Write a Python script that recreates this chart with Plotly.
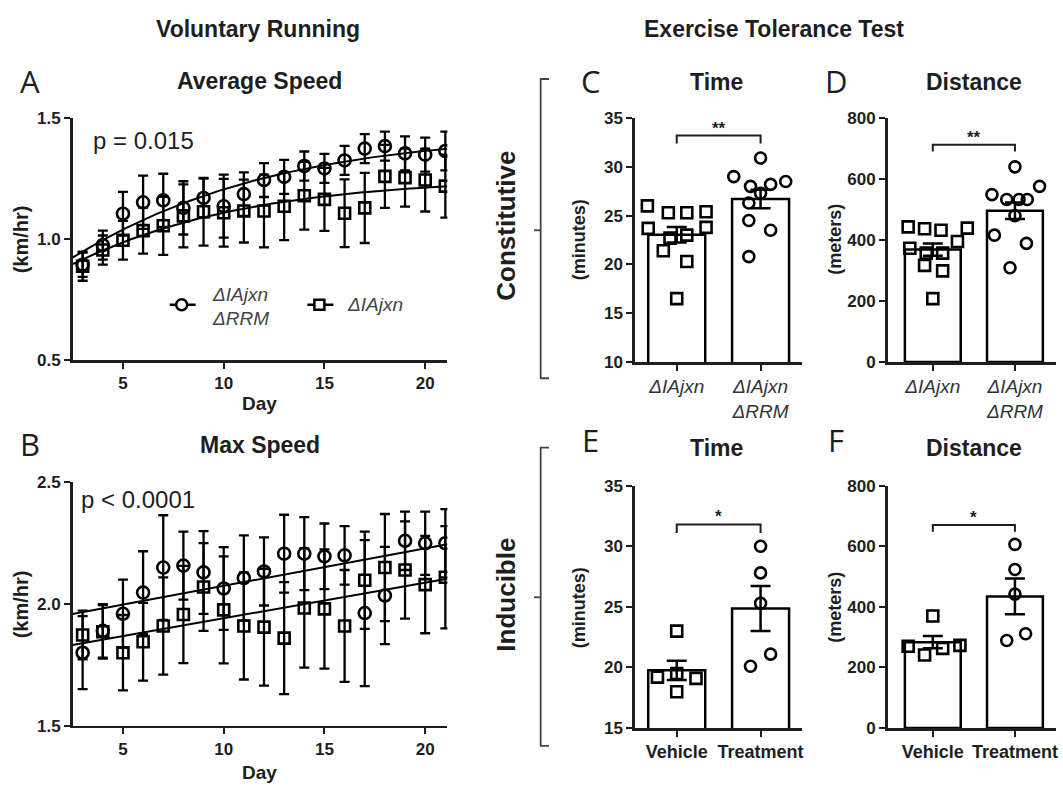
import numpy as np
import plotly.graph_objects as go

W, H = 1063, 794

# ---------------- data ----------------
days = list(range(3, 22))

avg_rrm = [0.895, 0.976, 1.106, 1.153, 1.161, 1.13, 1.171, 1.137, 1.187, 1.245,
           1.258, 1.303, 1.293, 1.326, 1.375, 1.385, 1.355, 1.35, 1.365]
avg_rrm_err = [0.05, 0.06, 0.09, 0.11, 0.11, 0.11, 0.08, 0.13, 0.09, 0.07,
               0.07, 0.06, 0.06, 0.06, 0.06, 0.06, 0.07, 0.07, 0.08]
avg_ctl = [0.889, 0.956, 0.996, 1.036, 1.056, 1.097, 1.114, 1.11, 1.117, 1.117,
           1.137, 1.18, 1.165, 1.108, 1.13, 1.26, 1.255, 1.245, 1.22]
avg_ctl_err = [0.06, 0.06, 0.08, 0.095, 0.12, 0.13, 0.14, 0.14, 0.13, 0.15,
               0.14, 0.14, 0.13, 0.14, 0.145, 0.13, 0.12, 0.13, 0.13]

max_rrm = [1.80, 1.89, 1.96, 2.047, 2.15, 2.158, 2.13, 2.064, 2.107, 2.134,
           2.207, 2.207, 2.196, 2.20, 1.963, 2.035, 2.26, 2.25, 2.25]
max_rrm_err = [0.15, 0.11, 0.14, 0.17, 0.215, 0.14, 0.17, 0.17, 0.175, 0.14,
               0.16, 0.15, 0.135, 0.12, 0.30, 0.20, 0.12, 0.13, 0.14]
max_ctl = [1.873, 1.886, 1.80, 1.845, 1.91, 1.957, 2.07, 1.976, 1.91, 1.905,
           1.86, 1.984, 1.98, 1.91, 2.098, 2.15, 2.14, 2.08, 2.11]
max_ctl_err = [0.10, 0.11, 0.155, 0.16, 0.20, 0.20, 0.18, 0.22, 0.22, 0.24,
               0.23, 0.245, 0.245, 0.23, 0.20, 0.22, 0.20, 0.20, 0.21]

# Constitutive
time_ctl = [26.0, 25.3, 25.3, 25.4, 23.7, 23.8, 22.7, 23.0, 21.4, 20.3, 16.5]
time_rrm = [30.9, 29.0, 28.0, 28.2, 28.5, 27.3, 26.3, 24.5, 23.5, 20.8]
time_sem = [0.8, 0.95]
dist_ctl = [443, 437, 432, 439, 395, 373, 357, 357, 317, 299, 208]
dist_rrm = [640, 576, 549, 533, 533, 533, 480, 416, 389, 309]
dist_sem = [20, 27]

# Inducible
itime_veh = [23.0, 19.2, 19.5, 19.1, 18.0]
itime_trt = [30.0, 27.8, 25.3, 20.1, 21.1]
itime_sem = [0.8, 1.85]
idist_veh = [370, 270, 241, 263, 273]
idist_trt = [606, 523, 442, 289, 311]
idist_sem = [20, 59]

cat_const = ["<i>ΔIAjxn</i>", "<i>ΔIAjxn<br>ΔRRM</i>"]
cat_induc = ["Vehicle", "Treatment"]

# horizontal jitter offsets (positions only)
jit_c_ctl = [-0.35, -0.1, 0.12, 0.35, -0.34, 0.35, -0.08, 0.12, -0.16, 0.12, 0.0]
jit_c_rrm = [0.0, -0.32, -0.12, 0.12, 0.3, 0.0, -0.14, -0.14, 0.12, -0.14]
jit_d_ctl = [-0.3, -0.1, 0.1, 0.42, 0.3, -0.28, -0.08, 0.12, -0.1, 0.12, 0.0]
jit_d_rrm = [0.0, 0.3, -0.28, -0.1, 0.05, 0.15, 0.0, -0.25, 0.14, -0.06]
jit_e_veh = [0.0, -0.23, 0.0, 0.23, 0.0]
jit_e_trt = [0.0, 0.0, 0.0, -0.12, 0.12]
jit_f_veh = [0.0, -0.3, -0.1, 0.12, 0.33]
jit_f_trt = [0.0, 0.0, 0.0, -0.1, 0.13]

FONT = "Liberation Sans, Arial, sans-serif"
INK = "#1e1e1e"


def px(x):
    return x / W


def py(y):
    return 1 - y / H


def logistic_fit(x, y):
    x = np.asarray(x, float)
    y = np.asarray(y, float)
    best = None
    for x0 in np.linspace(-10, 20, 121):
        for s in np.linspace(0.5, 12, 93):
            g = 1.0 / (1.0 + np.exp(-(x - x0) / s))
            M = np.vstack([np.ones_like(x), g]).T
            coef, *_ = np.linalg.lstsq(M, y, rcond=None)
            sse = float(((M @ coef - y) ** 2).sum())
            if best is None or sse < best[0]:
                best = (sse, x0, s, coef)
    _, x0, s, coef = best
    return lambda t: coef[0] + coef[1] / (1.0 + np.exp(-(t - x0) / s))


fig = go.Figure()

mk_circle = dict(symbol="circle-open", size=12, color="black", line=dict(width=2.6, color="black"))
mk_square = dict(symbol="square-open", size=11, color="black", line=dict(width=2.6, color="black"))
errstyle = dict(type="data", color="black", thickness=2.3, width=5)

xf = np.linspace(2.5, 21.1, 200)
# ---- panel A ----
for means, errs, mk in [(avg_rrm, avg_rrm_err, mk_circle), (avg_ctl, avg_ctl_err, mk_square)]:
    f = logistic_fit(days, means)
    fig.add_trace(go.Scatter(x=xf, y=f(xf), mode="lines", line=dict(color="black", width=2),
                             xaxis="x", yaxis="y", showlegend=False, hoverinfo="skip"))
    fig.add_trace(go.Scatter(x=days, y=means, mode="markers", marker=mk,
                             error_y=dict(array=errs, **errstyle),
                             xaxis="x", yaxis="y", showlegend=False))

# ---- panel B ----
for means, errs, mk in [(max_rrm, max_rrm_err, mk_circle), (max_ctl, max_ctl_err, mk_square)]:
    p = np.polyfit(days, means, 1)
    fig.add_trace(go.Scatter(x=xf, y=np.polyval(p, xf), mode="lines", line=dict(color="black", width=2),
                             xaxis="x2", yaxis="y2", showlegend=False, hoverinfo="skip"))
    fig.add_trace(go.Scatter(x=days, y=means, mode="markers", marker=mk,
                             error_y=dict(array=errs, **errstyle),
                             xaxis="x2", yaxis="y2", showlegend=False))


def bar_panel(ax, ay, g1, g2, j1, j2, sem):
    means = [float(np.mean(g1)), float(np.mean(g2))]
    fig.add_trace(go.Bar(x=[0, 1], y=means, width=0.68,
                         marker=dict(color="white", line=dict(color="black", width=2.5)),
                         error_y=dict(type="data", array=sem, color="black", thickness=2.5, width=10),
                         xaxis=ax, yaxis=ay, showlegend=False))
    fig.add_trace(go.Scatter(x=[0 + j for j in j1], y=g1, mode="markers",
                             marker=dict(symbol="square-open", size=11, color="black",
                                         line=dict(width=2.6, color="black")),
                             xaxis=ax, yaxis=ay, showlegend=False))
    fig.add_trace(go.Scatter(x=[1 + j for j in j2], y=g2, mode="markers",
                             marker=dict(symbol="circle-open", size=11, color="black",
                                         line=dict(width=2.6, color="black")),
                             xaxis=ax, yaxis=ay, showlegend=False))


bar_panel("x3", "y3", time_ctl, time_rrm, jit_c_ctl, jit_c_rrm, time_sem)
bar_panel("x4", "y4", dist_ctl, dist_rrm, jit_d_ctl, jit_d_rrm, dist_sem)
bar_panel("x5", "y5", itime_veh, itime_trt, jit_e_veh, jit_e_trt, itime_sem)
bar_panel("x6", "y6", idist_veh, idist_trt, jit_f_veh, jit_f_trt, idist_sem)

tickfont = dict(family=FONT, size=17, color=INK, weight="bold")
axbase = dict(showline=True, linecolor=INK, linewidth=2.5, ticks="outside", ticklen=6,
              tickwidth=2, tickcolor=INK, showgrid=False, zeroline=False)
axcommon = dict(axbase, tickfont=tickfont)
italfont = dict(family=FONT, size=19, color="#333", style="italic")
catfont = dict(family=FONT, size=18, color=INK, weight="bold")

# domains
xA = [px(72.7), px(448.2)]
yA = [py(360), py(112)]
yB = [py(734.3), py(485)]
xC = [px(636), px(804)]
xD = [px(889.3), px(1058)]
yC = [py(361.7), py(111.7)]
yE = [py(736.7), py(488.3)]

lay = dict(
    width=W, height=H, margin=dict(l=0, r=0, t=0, b=0),
    paper_bgcolor="white", plot_bgcolor="rgba(0,0,0,0)",
    xaxis=dict(domain=xA, range=[2.5, 21.1], tickvals=[5, 10, 15, 20], anchor="y", **axcommon),
    yaxis=dict(domain=yA, range=[0.5, 1.5], tickvals=[0.5, 1.0, 1.5], tickformat=".1f", anchor="x", **axcommon),
    xaxis2=dict(domain=xA, range=[2.5, 21.1], tickvals=[5, 10, 15, 20], anchor="y2", **axcommon),
    yaxis2=dict(domain=yB, range=[1.5, 2.5], tickvals=[1.5, 2.0, 2.5], tickformat=".1f", anchor="x2", **axcommon),
    xaxis3=dict(domain=xC, range=[-0.5, 1.5], tickvals=[0, 1], ticktext=cat_const, anchor="y3",
                tickfont=italfont, **axbase),
    yaxis3=dict(domain=yC, range=[10, 35], tickvals=[10, 15, 20, 25, 30, 35], anchor="x3", **axcommon),
    xaxis4=dict(domain=xD, range=[-0.55, 1.5], tickvals=[0, 1], ticktext=cat_const, anchor="y4",
                tickfont=italfont, **axbase),
    yaxis4=dict(domain=yC, range=[0, 800], tickvals=[0, 200, 400, 600, 800], anchor="x4", **axcommon),
    xaxis5=dict(domain=xC, range=[-0.5, 1.5], tickvals=[0, 1], ticktext=cat_induc, anchor="y5",
                tickfont=catfont, **axbase),
    yaxis5=dict(domain=yE, range=[15, 35], tickvals=[15, 20, 25, 30, 35], anchor="x5", **axcommon),
    xaxis6=dict(domain=xD, range=[-0.55, 1.5], tickvals=[0, 1], ticktext=cat_induc, anchor="y6",
                tickfont=catfont, **axbase),
    yaxis6=dict(domain=yE, range=[0, 800], tickvals=[0, 200, 400, 600, 800], anchor="x6", **axcommon),
)
fig.update_layout(**lay)

ann = []


def text(x, y, s, size=15, bold=True, angle=0, xanchor="center", family=FONT, italic=False, color=INK):
    f = dict(family=family, size=size, color=color)
    if bold:
        f["weight"] = "bold"
    if italic:
        f["style"] = "italic"
    ann.append(dict(x=px(x), y=py(y), xref="paper", yref="paper", text=s, showarrow=False,
                    font=f, textangle=angle, xanchor=xanchor, yanchor="middle"))


# headers
text(258, 21, "Voluntary Running", size=23)
text(775, 21, "Exercise Tolerance Test", size=23)
text(260, 74, "Average Speed", size=23)
text(260, 447, "Max Speed", size=23)
text(718, 75, "Time", size=23)
text(976, 75, "Distance", size=23)
text(718, 450, "Time", size=23)
text(976, 450, "Distance", size=23)
# panel letters
for L, x, y in [("A", 30, 74), ("B", 30, 446), ("C", 592, 74), ("D", 838, 74), ("E", 592, 442), ("F", 838, 442)]:
    text(x, y, L, size=31, bold=False, family="Open Sans, Liberation Sans, sans-serif")
# axis titles
text(21, 236, "(km/hr)", size=20, angle=-90)
text(21, 610, "(km/hr)", size=20, angle=-90)
text(260, 404, "Day", size=19)
text(260, 782, "Day", size=19)
text(580, 236, "(minutes)", size=18, angle=-90)
text(837, 236, "(meters)", size=18, angle=-90)
text(580, 613, "(minutes)", size=18, angle=-90)
text(837, 613, "(meters)", size=18, angle=-90)
# p-values
text(91, 135, "p = 0.015", size=24, bold=False, xanchor="left")
text(79, 503, "p < 0.0001", size=24, bold=False, xanchor="left")
# group labels
text(507, 222, "Constitutive", size=26, angle=-90)
text(507, 600, "Inducible", size=26, angle=-90)
# legend texts
text(210, 293, "ΔIAjxn", size=19, bold=False, italic=True, xanchor="left", color="#444")
text(210, 317, "ΔRRM", size=19, bold=False, italic=True, xanchor="left", color="#444")
text(346, 303, "ΔIAjxn", size=19, bold=False, italic=True, xanchor="left", color="#444")

# significance stars
for xa, ya, yb, s in [("x3", "y3", 33.2, "**"), ("x4", "y4", 712, "**"), ("x5", "y5", 31.8, "*"), ("x6", "y6", 670, "*")]:
    ann.append(dict(x=0.5, y=yb, xref=xa, yref=ya, text=s, showarrow=False, yanchor="bottom",
                    font=dict(family=FONT, size=17, color=INK, weight="bold"), yshift=-4))

fig.update_layout(annotations=ann)

shapes = []
# significance brackets
for xa, ya, top, low in [("x3", "y3", 33.2, 32.4), ("x4", "y4", 712, 690), ("x5", "y5", 31.8, 31.1), ("x6", "y6", 670, 648)]:
    shapes.append(dict(type="path", xref=xa, yref=ya,
                       path=f"M 0,{low} L 0,{top} L 1,{top} L 1,{low}",
                       line=dict(color=INK, width=2)))

# group brackets (paper)
for y0, y1, ym in [(71.7, 378.3, 226.7), (449.3, 755, 602.7)]:
    shapes.append(dict(type="path", xref="paper", yref="paper",
                       path=f"M {px(550)},{py(y0)} L {px(541.7)},{py(y0)} L {px(541.7)},{py(y1)} L {px(550)},{py(y1)}",
                       line=dict(color="#444", width=1.8)))
    shapes.append(dict(type="line", xref="paper", yref="paper", x0=px(535), x1=px(541.7), y0=py(ym), y1=py(ym),
                       line=dict(color="#444", width=1.8)))

# legend symbols
shapes.append(dict(type="line", xref="paper", yref="paper", x0=px(170), x1=px(196), y0=py(303), y1=py(303),
                   line=dict(color="black", width=2.5)))
shapes.append(dict(type="circle", xref="paper", yref="paper", xsizemode="pixel", ysizemode="pixel",
                   xanchor=px(182), yanchor=py(303), x0=-5.5, x1=5.5, y0=-5.5, y1=5.5,
                   fillcolor="white", line=dict(color="black", width=2.5)))
shapes.append(dict(type="line", xref="paper", yref="paper", x0=px(308), x1=px(334), y0=py(303), y1=py(303),
                   line=dict(color="black", width=2.5)))
shapes.append(dict(type="rect", xref="paper", yref="paper", xsizemode="pixel", ysizemode="pixel",
                   xanchor=px(320), yanchor=py(303), x0=-5, x1=5, y0=-5, y1=5,
                   fillcolor="white", line=dict(color="black", width=2.5)))
fig.update_layout(shapes=shapes)

# remove the browser's default 8px body margin so the figure fills the window exactly
fig.write_html("out.html",
               config={"displayModeBar": False, "staticPlot": True},
               post_script="document.body.style.margin='0';document.body.style.overflow='hidden';")
